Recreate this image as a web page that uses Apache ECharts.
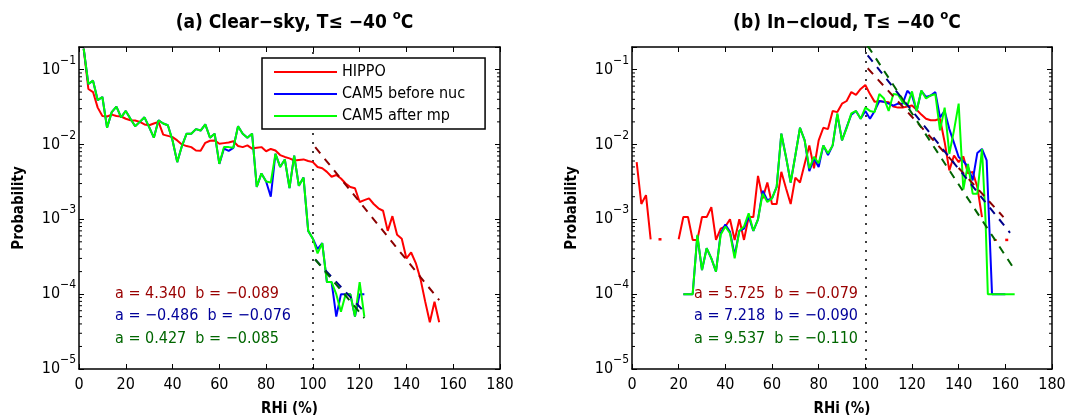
<!DOCTYPE html>
<html><head><meta charset="utf-8">
<script src="https://cdn.jsdelivr.net/npm/echarts@6/dist/echarts.min.js"></script>
<style>html,body{margin:0;padding:0;background:#fff}#c{width:1067px;height:415px}</style>
</head><body><div id="c"></div>
<script>
const FONT = "'DejaVu Sans Condensed', 'DejaVu Sans', sans-serif";
const seriesNames = ['HIPPO', 'CAM5 before nuc', 'CAM5 after mp'];
const panelTitles = ['(a) Clear\u2212sky, T\u2264 \u221240 ', '(b) In\u2212cloud, T\u2264 \u221240 '];
const xMin = 0, xMax = 180, xStep = 20;
const yMin = 1e-5, yMax = 0.2;

// (a) clear-sky
const clearHippo = [[2,0.19],[4,0.055],[6,0.05],[8,0.031],[10,0.024],[12,0.0236],[14,0.025],[16,0.024],[18,0.0236],[20,0.022],[22,0.021],[24,0.0209],[26,0.020],[28,0.0185],[30,0.018],[32,0.019],[34,0.020],[36,0.0135],[38,0.013],[40,0.0125],[42,0.0113],[44,0.0100],[46,0.0095],[48,0.0092],[50,0.0083],[52,0.0082],[54,0.0105],[56,0.0112],[58,0.0113],[60,0.0102],[62,0.0104],[64,0.0106],[66,0.011],[68,0.0095],[70,0.0092],[72,0.0097],[74,0.0088],[76,0.009],[78,0.0092],[80,0.0081],[82,0.0087],[84,0.0083],[86,0.0072],[88,0.0068],[90,0.0065],[92,0.0061],[94,0.0062],[96,0.0063],[98,0.006],[100,0.0058],[102,0.005],[104,0.0048],[106,0.0043],[108,0.0037],[110,0.0039],[112,0.0035],[114,0.0030],[116,0.0027],[118,0.0026],[120,0.0017],[122,0.0018],[124,0.0019],[126,0.0016],[128,0.0014],[130,0.0013],[132,0.0007],[134,0.0011],[136,0.00062],[138,0.00055],[140,0.0003],[142,0.00036],[144,0.00026],[146,0.00016],[148,0.00008],[150,0.000042],[152,0.000079],[154,0.000042]];
const clearBefore = [[2,0.19],[4,0.064],[6,0.071],[8,0.039],[10,0.043],[12,0.0167],[14,0.027],[16,0.032],[18,0.023],[20,0.028],[22,0.022],[24,0.0175],[26,0.020],[28,0.023],[30,0.017],[32,0.0123],[34,0.021],[36,0.019],[38,0.018],[40,0.0113],[42,0.0058],[44,0.0095],[46,0.0139],[48,0.0139],[50,0.016],[52,0.0153],[54,0.0185],[56,0.0123],[58,0.0139],[60,0.0055],[62,0.0088],[64,0.0082],[66,0.009],[68,0.0175],[70,0.0139],[72,0.0123],[74,0.0139],[76,0.0027],[78,0.0041],[80,0.0032],[82,0.002],[84,0.0075],[86,0.005],[88,0.0063],[90,0.0026],[92,0.0071],[94,0.0028],[96,0.0036],[98,0.0007],[100,0.00055],[102,0.0004],[104,0.00048],[106,0.000145],[108,0.000145],[110,0.00005],[112,0.0001],[114,0.0001],[116,0.0001],[118,0.00005],[120,0.0001],[122,0.0001]];
const clearAfter = [[2,0.19],[4,0.064],[6,0.071],[8,0.039],[10,0.043],[12,0.0167],[14,0.027],[16,0.032],[18,0.023],[20,0.028],[22,0.022],[24,0.0175],[26,0.020],[28,0.023],[30,0.017],[32,0.0123],[34,0.021],[36,0.019],[38,0.018],[40,0.0113],[42,0.0058],[44,0.0095],[46,0.0139],[48,0.0139],[50,0.016],[52,0.0153],[54,0.0185],[56,0.0123],[58,0.0139],[60,0.0055],[62,0.0092],[64,0.0092],[66,0.009],[68,0.0175],[70,0.0139],[72,0.0123],[74,0.0139],[76,0.0027],[78,0.0041],[80,0.0032],[82,0.0031],[84,0.0075],[86,0.005],[88,0.0063],[90,0.0026],[92,0.0071],[94,0.0028],[96,0.0036],[98,0.0007],[100,0.00055],[102,0.00035],[104,0.00048],[106,0.000145],[108,0.000145],[110,0.0001],[112,0.000058],[114,0.0001],[116,0.0001],[118,0.00005],[120,0.000145],[122,0.00005]];
const clearFitHippo = [[101,0.0092],[154,0.000083]];
const clearFitBefore = [[101,0.00029],[122,0.000058]];
const clearFitAfter = [[101,0.00029],[122,0.000048]];
const clearFitText = ['a = 4.340  b = \u22120.089', 'a = \u22120.486  b = \u22120.076', 'a = 0.427  b = \u22120.085'];

// (b) in-cloud
const dot = v => ({ value: v, symbol: 'rect', symbolSize: [3, 2.5] });
const cloudHippo = [[2,0.0058],[4,0.0016],[6,0.0021],[8,0.00054],[10,null],dot([12,0.00054]),[14,null],[20,0.00054],[22,0.00107],[24,0.00107],[26,0.00053],[28,0.00053],[30,0.00107],[32,0.00107],[34,0.00145],[36,0.00053],[38,0.00075],[40,0.0008],[42,0.001],[44,0.00053],[46,0.001],[48,0.00053],[50,0.00107],[52,0.00107],[54,0.0038],[56,0.0019],[58,0.0031],[60,0.0016],[62,0.0016],[64,0.0043],[66,0.0026],[68,0.0016],[70,0.0036],[72,0.0031],[74,0.0055],[76,0.0097],[78,0.0048],[80,0.0113],[82,0.0167],[84,0.016],[86,0.028],[88,0.027],[90,0.035],[92,0.038],[94,0.050],[96,0.046],[98,0.055],[100,0.062],[102,0.047],[104,0.037],[106,0.038],[108,0.037],[110,0.0366],[112,0.032],[114,0.031],[116,0.031],[118,0.032],[120,0.033],[122,0.029],[124,0.025],[126,0.022],[128,0.021],[130,0.021],[132,0.022],[134,0.0107],[136,0.0045],[138,0.0071],[140,0.0058],[142,0.0069],[144,0.0041],[146,0.0043],[148,0.0027],[150,0.00107],[152,null],[155,0.00053],[156.3,0.00053],[158,null],dot([160.6,0.00053])];
const cloudBefore = [[22,0.0001],[24,0.0001],[26,0.0001],[28,0.0006],[30,0.00021],[32,0.00041],[34,0.0003],[36,0.0002],[38,0.00065],[40,0.00085],[42,0.00068],[44,0.00033],[46,0.0007],[48,0.00075],[50,0.0011],[52,0.0007],[54,0.001],[56,0.0024],[58,0.0018],[60,0.0019],[62,0.0027],[64,0.0139],[66,0.0068],[68,0.0031],[70,0.0071],[72,0.0167],[74,0.0113],[76,0.0044],[78,0.0065],[80,0.005],[82,0.0097],[84,0.0072],[86,0.0097],[88,0.025],[90,0.0113],[92,0.017],[94,0.025],[96,0.028],[98,0.022],[100,0.028],[102,0.022],[104,0.028],[106,0.038],[108,0.037],[110,0.035],[112,0.033],[114,0.035],[116,0.035],[118,0.052],[120,0.045],[122,0.028],[124,0.052],[126,0.043],[128,0.045],[130,0.050],[132,0.023],[134,0.028],[136,0.016],[138,0.0105],[140,0.0068],[142,0.006],[144,0.005],[146,0.0033],[148,0.0077],[150,0.0087],[152,0.0061],[154.3,0.0001],[156,0.0001],[158,0.0001],[160,0.0001]];
const cloudAfter = [[22,0.0001],[24,0.0001],[26,0.0001],[28,0.00062],[30,0.00021],[32,0.00041],[34,0.0003],[36,0.0002],[38,0.00062],[40,0.0008],[42,0.00065],[44,0.0003],[46,0.0007],[48,0.0008],[50,0.0012],[52,0.0007],[54,0.001],[56,0.0022],[58,0.0017],[60,0.0019],[62,0.0027],[64,0.0139],[66,0.0068],[68,0.0031],[70,0.0071],[72,0.0167],[74,0.0113],[76,0.0048],[78,0.0068],[80,0.0056],[82,0.0097],[84,0.0076],[86,0.0097],[88,0.026],[90,0.0113],[92,0.0165],[94,0.026],[96,0.028],[98,0.022],[100,0.031],[102,0.028],[104,0.027],[106,0.047],[108,0.041],[110,0.028],[112,0.047],[114,0.046],[116,0.0366],[118,0.033],[120,0.051],[122,0.028],[124,0.0525],[126,0.041],[128,0.045],[130,0.047],[132,0.0154],[134,0.031],[136,0.0075],[138,0.0154],[140,0.035],[142,0.0025],[144,0.0055],[146,0.0022],[148,0.0022],[150,0.0087],[151.5,0.001],[152.5,0.0001],[154,0.0001],[156,0.0001],[158,0.0001],[160,0.0001],[162,0.0001],[164,0.0001]];
const cloudFitHippo = [[101,0.104],[159.2,0.00107]];
const cloudFitBefore = [[101,0.154],[162,0.00066]];
const cloudFitAfter = [[101,0.207],[164.5,0.0002]];
const cloudFitText = ['a = 5.725  b = \u22120.079', 'a = 7.218  b = \u22120.090', 'a = 9.537  b = \u22120.110'];

const lineColors = ['#ff0000', '#0000ff', '#00ff00'];
const fitColors = ['#8b0000', '#00008b', '#006400'];
const textColors = ['#990000', '#000099', '#006600'];

const grids = [
  { left: 79, top: 47, width: 421, height: 322 },
  { left: 632, top: 47, width: 420, height: 322 }
];

function yLabel(v) {
  const l = Math.log10(v), e = Math.round(l);
  if (Math.abs(l - e) > 1e-6) return '';
  return '{b|10}{s|' + (e < 0 ? '\u2212' : '') + Math.abs(e) + '}';
}

const xAxes = [], yAxes = [], series = [];
const axisLine = { show: true, onZero: false, lineStyle: { color: '#000', width: 1.5 } };
grids.forEach((g, gi) => {
  xAxes.push({
    gridIndex: gi, type: 'value', min: xMin, max: xMax, interval: xStep, position: 'bottom',
    axisLine, axisTick: { inside: true, length: 5, lineStyle: { color: '#000', width: 1 } },
    axisLabel: { color: '#000', fontSize: 16, fontFamily: FONT, margin: 8 },
    splitLine: { show: false },
    name: 'RHi (%)', nameLocation: 'middle', nameGap: 33,
    nameTextStyle: { color: '#000', fontSize: 15, fontWeight: 'bold', fontFamily: FONT }
  });
  xAxes.push({
    gridIndex: gi, type: 'value', min: xMin, max: xMax, interval: xStep, position: 'top',
    axisLine, axisTick: { inside: true, length: 5, lineStyle: { color: '#000', width: 1 } },
    axisLabel: { show: false }, splitLine: { show: false }
  });
  yAxes.push({
    gridIndex: gi, type: 'log', logBase: 10, min: yMin, max: yMax, position: 'left',
    axisLine, axisTick: { inside: true, length: 5, lineStyle: { color: '#000', width: 1 } },
    axisLabel: {
      formatter: yLabel, margin: 3, color: '#000',
      rich: {
        b: { fontSize: 16, fontFamily: FONT, color: '#000', lineHeight: 30 },
        s: { fontSize: 12, fontFamily: FONT, color: '#000', verticalAlign: 'top', lineHeight: 12 }
      }
    },
    splitLine: { show: false },
    name: 'Probability', nameLocation: 'middle', nameGap: 52,
    nameTextStyle: { color: '#000', fontSize: 15, fontWeight: 'bold', fontFamily: FONT }
  });
  yAxes.push({
    gridIndex: gi, type: 'log', logBase: 10, min: yMin, max: yMax, position: 'right',
    axisLine, axisTick: { inside: true, length: 5, lineStyle: { color: '#000', width: 1 } },
    axisLabel: { show: false }, splitLine: { show: false }
  });
});

// minor log ticks (2..9 x 10^k) on left and right borders
const minorTickVals = [];
for (let e = -5; e <= -1; e++) for (let m = 2; m <= 9; m++) {
  const v = m * Math.pow(10, e);
  if (v < yMax * 0.999) minorTickVals.push([xMin, v]);
}

const panels = [
  { lines: [clearHippo, clearBefore, clearAfter], fits: [clearFitHippo, clearFitBefore, clearFitAfter] },
  { lines: [cloudHippo, cloudBefore, cloudAfter], fits: [cloudFitHippo, cloudFitBefore, cloudFitAfter] }
];

panels.forEach((p, gi) => {
  p.lines.forEach((d, i) => {
    const s = {
      name: seriesNames[i], type: 'line', xAxisIndex: gi * 2, yAxisIndex: gi * 2, data: d,
      symbol: 'none', connectNulls: false, color: lineColors[i],
      lineStyle: { color: lineColors[i], width: 2 }, itemStyle: { color: lineColors[i] },
      silent: true, z: 3 + i
    };
    if (i === 0) {
      s.markLine = {
        silent: true, symbol: ['none', 'none'], label: { show: false },
        lineStyle: { color: '#000', type: [2, 7], width: 1.5 },
        data: [{ xAxis: 100 }], animation: false, z: 1
      };
    }
    series.push(s);
  });
  p.fits.forEach((d, i) => {
    series.push({
      name: 'fit' + gi + i, type: 'line', xAxisIndex: gi * 2, yAxisIndex: gi * 2, data: d,
      symbol: 'none', lineStyle: { color: fitColors[i], width: 2, type: [8, 7] }, silent: true, z: 7
    });
  });
  series.push({
    type: 'custom', xAxisIndex: gi * 2, yAxisIndex: gi * 2, data: minorTickVals, silent: true, clip: false, z: 8,
    renderItem: (params, api) => {
      const v = api.value(1);
      const pl = api.coord([xMin, v]);
      const pr = api.coord([xMax, v]);
      const st = { stroke: '#000', lineWidth: 1 };
      return { type: 'group', children: [
        { type: 'line', shape: { x1: pl[0], y1: pl[1], x2: pl[0] + 3, y2: pl[1] }, style: st },
        { type: 'line', shape: { x1: pr[0] - 3, y1: pr[1], x2: pr[0], y2: pr[1] }, style: st }
      ] };
    }
  });
});

const graphics = [];
[clearFitText, cloudFitText].forEach((texts, gi) => {
  const x0 = gi === 0 ? 115 : 694;
  texts.forEach((t, i) => {
    graphics.push({
      type: 'text', x: x0, y: 294 + i * 22.3, z: 20,
      style: { text: t, fill: textColors[i], fontSize: 16, fontFamily: FONT, verticalAlign: 'middle' }
    });
  });
});

const titleRich = {
  t: { fontSize: 19, fontWeight: 'bold', fontFamily: FONT, color: '#000', lineHeight: 28 },
  s: { fontSize: 13, fontWeight: 'bold', fontFamily: FONT, color: '#000', verticalAlign: 'top', lineHeight: 13 }
};

const option = {
  animation: false,
  backgroundColor: '#fff',
  title: panelTitles.map((t, i) => ({
    text: '{t|' + t + '}{s|o}{t|C}', left: i === 0 ? 289.5 : 842, top: 4, textAlign: 'center',
    textStyle: { rich: titleRich }
  })),
  legend: {
    data: seriesNames, orient: 'vertical', left: 262, top: 58, icon: 'rect',
    backgroundColor: '#fff', borderColor: '#000', borderWidth: 1.5,
    padding: [6, 20, 5, 12], itemWidth: 63, itemHeight: 2, itemGap: 6,
    textStyle: { color: '#000', fontSize: 16, fontFamily: FONT, lineHeight: 16 },
    selectedMode: false, zlevel: 1, z: 10
  },
  grid: grids.map(g => Object.assign({ containLabel: false, outerBoundsMode: 'none' }, g)),
  xAxis: xAxes, yAxis: yAxes, series, graphic: graphics
};

const chart = echarts.init(document.getElementById('c'), null, { renderer: 'canvas' });
chart.setOption(option);
</script></body></html>
